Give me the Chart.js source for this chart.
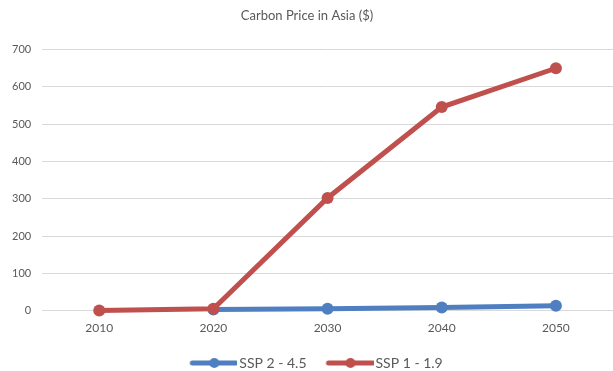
<!DOCTYPE html>
<html>
<head>
<meta charset="utf-8">
<script src="https://cdn.jsdelivr.net/npm/chart.js@4"></script>
<style>
  html, body { margin: 0; padding: 0; background: #fff; }
  #wrap { width: 613px; height: 371px; }
</style>
</head>
<body>
<div id="wrap"><canvas id="c" width="613" height="371"></canvas></div>
<script>
const years = ['2010', '2020', '2030', '2040', '2050'];
const ssp245 = [null, 3, 5, 8, 13];
const ssp119 = [0, 5, 302, 546, 650];
const yTicks = [0, 100, 200, 300, 400, 500, 600, 700];

const BLUE = '#4f7fc0';
const RED = '#c0504d';
const TEXT = '#595959';

// legend swatch: thick line with a dot in the middle.
// The canvas is wider than the legend box so the line runs up to the text.
const BOX_W = 51;
function swatch(color) {
  const cv = document.createElement('canvas');
  cv.width = BOX_W + 10; cv.height = 12;
  const g = cv.getContext('2d');
  const x0 = 16, x1 = cv.width - 1;
  g.strokeStyle = color;
  g.lineWidth = 5;
  g.lineCap = 'round';
  g.beginPath(); g.moveTo(x0, 6); g.lineTo(x1, 6); g.stroke();
  g.fillStyle = color;
  g.beginPath(); g.arc((x0 + x1) / 2, 6, 5, 0, Math.PI * 2); g.fill();
  return cv;
}

// shift the bottom legend a little to the right
const legendNudge = {
  id: 'legendNudge',
  afterLayout(chart) {
    const lg = chart.legend;
    if (lg) { lg.left += 5; lg.right += 5; }
  }
};

Chart.defaults.font.family = 'Lato, "Open Sans", sans-serif';
Chart.defaults.color = TEXT;

new Chart(document.getElementById('c'), {
  type: 'line',
  data: {
    labels: years,
    datasets: [
      {
        label: 'SSP 2 - 4.5',
        data: ssp245,
        borderColor: BLUE,
        backgroundColor: BLUE,
        borderWidth: 5,
        pointRadius: 6,
        pointHoverRadius: 6,
        pointBorderWidth: 0,
        tension: 0,
        spanGaps: false,
        clip: false,
        order: 2
      },
      {
        label: 'SSP 1 - 1.9',
        data: ssp119,
        borderColor: RED,
        backgroundColor: RED,
        borderWidth: 5,
        pointRadius: 6,
        pointHoverRadius: 6,
        pointBorderWidth: 0,
        tension: 0,
        clip: false,
        order: 1
      }
    ]
  },
  plugins: [legendNudge],
  options: {
    responsive: false,
    animation: false,
    layout: { autoPadding: false, padding: { left: 1, right: 0, top: 2, bottom: -9 } },
    plugins: {
      title: {
        display: true,
        text: 'Carbon Price in Asia ($)',
        color: TEXT,
        font: { size: 13, weight: 'normal' },
        padding: { top: 6, bottom: 26 }
      },
      legend: {
        position: 'bottom',
        labels: {
          usePointStyle: true,
          pointStyleWidth: BOX_W,
          boxHeight: 12,
          padding: 11,
          color: TEXT,
          font: { size: 14 },
          sort: (a, b) => a.datasetIndex - b.datasetIndex,
          generateLabels(chart) {
            const items = Chart.defaults.plugins.legend.labels.generateLabels(chart);
            items.forEach(it => {
              it.pointStyle = swatch(chart.data.datasets[it.datasetIndex].borderColor);
            });
            return items;
          }
        }
      },
      tooltip: { enabled: false }
    },
    scales: {
      x: {
        offset: true,
        grid: { display: false, drawTicks: false },
        border: { display: false },
        ticks: { color: TEXT, font: { size: 12 }, padding: 10 }
      },
      y: {
        min: 0,
        max: 700,
        afterBuildTicks(axis) { axis.ticks = yTicks.map(v => ({ value: v })); },
        grid: { color: '#d9d9d9', lineWidth: 1, drawTicks: false },
        border: { display: false },
        ticks: { color: TEXT, font: { size: 11 }, padding: 11 }
      }
    }
  }
});
</script>
</body>
</html>
